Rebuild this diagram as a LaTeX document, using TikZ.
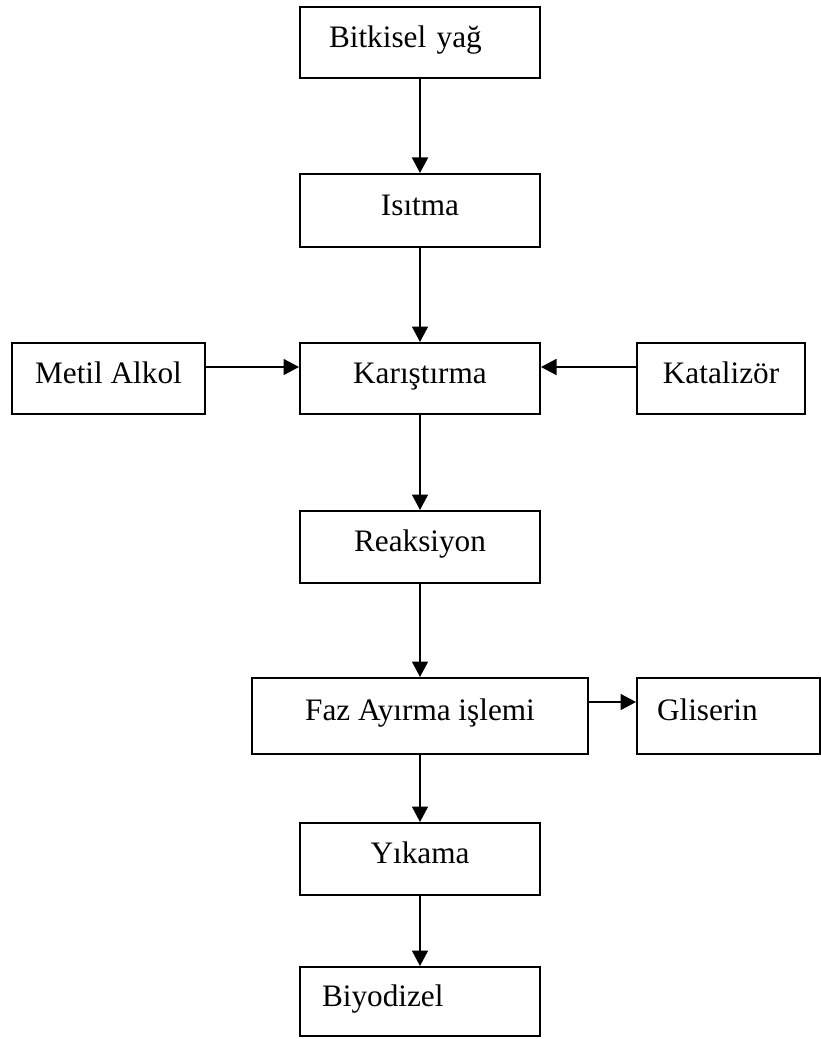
\documentclass[tikz,border=0pt]{standalone}
\usepackage{fontspec}
\setmainfont{Liberation Serif}
\usetikzlibrary{arrows.meta}

\begin{document}
\begin{tikzpicture}[
    x=0.4pt, y=-0.4pt,
    stepbox/.style={
        draw,
        line width=0.8pt,
        inner sep=0pt,
        minimum width=96pt,
        minimum height=28.8pt,
        text height=0.68em,
        text depth=0.3em,
        font=\fontsize{12.5}{15}\selectfont
    },
    leftbox/.style={stepbox, align=left, inner xsep=#1},
    flow/.style={-{Triangle[length=6.2pt, width=6.4pt]}, line width=0.7pt}
]
\useasboundingbox (0,0) rectangle (820,1039);

% Main process chain
\node[leftbox=11.6pt, text width=72.8pt, minimum height=28.4pt] (yag) at (420,42.5) {Bitkisel yağ};
\node[stepbox, minimum height=29.2pt] (isitma) at (420,210.5) {Isıtma};
\node[stepbox, minimum height=28.4pt] (karis) at (420,378.5) {Karıştırma};
\node[stepbox] (reak) at (420,547) {Reaksiyon};
\node[stepbox, minimum width=134.4pt, minimum height=30.4pt] (faz) at (420,716) {Faz Ayırma işlemi};
\node[stepbox] (yikama) at (420,859) {Yıkama};
\node[leftbox=8.8pt, text width=78.4pt, minimum height=27.6pt] (biyo) at (420,1001.5) {Biyodizel};

% Inputs and side product
\node[stepbox, minimum width=77.2pt, minimum height=28.4pt] (metil) at (108.5,378.5) {Metil Alkol};
\node[stepbox, minimum width=67.2pt, minimum height=28.4pt] (katal) at (721,378.5) {Katalizör};
\node[leftbox=8pt, text width=57.2pt, minimum width=73.2pt, minimum height=30.4pt] (glis) at (728.5,716) {Gliserin};

% Arrows
\draw[flow] (yag.south) -- (isitma.north);
\draw[flow] (isitma.south) -- (karis.north);
\draw[flow] (karis.south) -- (reak.north);
\draw[flow] (reak.south) -- (faz.north);
\draw[flow] (faz.south) -- (yikama.north);
\draw[flow] (yikama.south) -- (biyo.north);
\draw[flow] ([yshift=4.6pt]metil.east) -- ([yshift=4.6pt]karis.west);
\draw[flow] ([yshift=4.6pt]katal.west) -- ([yshift=4.6pt]karis.east);
\draw[flow] ([yshift=5.6pt]faz.east) -- ([yshift=5.6pt]glis.west);

\end{tikzpicture}
\end{document}
